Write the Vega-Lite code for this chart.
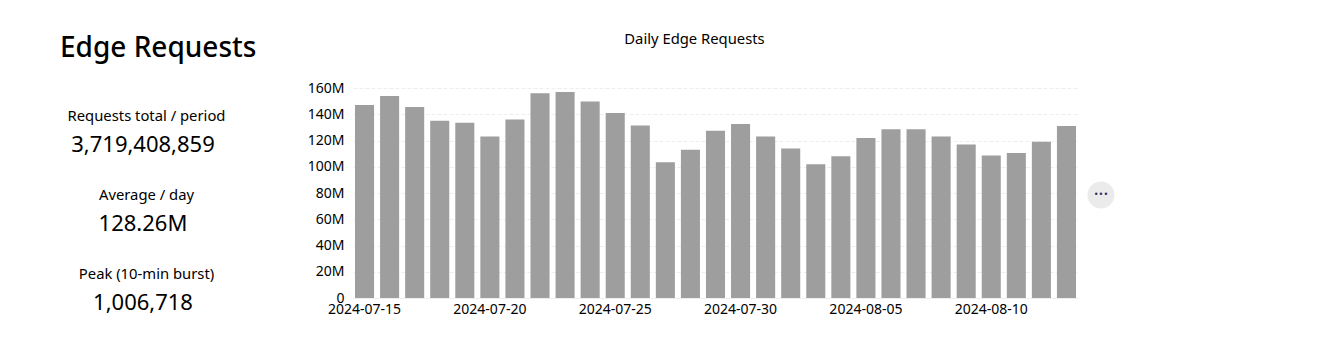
{
"$schema":"https://vega.github.io/schema/vega-lite/v6.json",
"padding":{"left":0,"top":32,"right":0,"bottom":0},
"background":"white",
"spacing":0,
"bounds":"flush",
"config":{"view":{"stroke":null},"font":"Noto Sans"},
"hconcat":[
{"width":353,"height":210,
 "title":{"text":"Edge Requests","anchor":"start","frame":"group","dx":60,"offset":25,"fontSize":28,"fontWeight":500,"font":"Noto Sans","color":"#000"},
 "data":{"values":[
  {"metric":"total","label":"Requests total / period","value":"3,719,408,859"},
  {"metric":"average","label":"Average / day","value":"128.26M"},
  {"metric":"peak","label":"Peak (10-min burst)","value":"1,006,718"}]},
 "encoding":{
  "y":{"field":"metric","type":"nominal","axis":null,"sort":null,"scale":{"type":"point","padding":0,"domain":["total","average","peak"],"range":[41.5,199.5]}}
 },
 "layer":[
  {"mark":{"type":"text","baseline":"middle","align":"center","color":"#000","fontSize":14.8,"dx":-30,"dy":-12.5},
   "encoding":{"text":{"field":"label"}}},
  {"mark":{"type":"text","baseline":"middle","align":"center","color":"#000","fontSize":22,"dx":-33.5,"dy":15},
   "encoding":{"text":{"field":"value"}}}
 ]},
{"width":725,"height":210,
 "title":{"text":"Daily Edge Requests","anchor":"middle","frame":"group","dx":-21,"offset":34,"fontSize":14.8,"fontWeight":400,"font":"Noto Sans","color":"#000"},
 "data":{"values":[
  {"date":"2024-07-15","requests":147000000},{"date":"2024-07-16","requests":154000000},{"date":"2024-07-17","requests":145500000},
  {"date":"2024-07-18","requests":135000000},{"date":"2024-07-19","requests":133500000},{"date":"2024-07-20","requests":123000000},
  {"date":"2024-07-21","requests":136000000},{"date":"2024-07-22","requests":156000000},{"date":"2024-07-23","requests":157000000},
  {"date":"2024-07-24","requests":149700000},{"date":"2024-07-25","requests":141000000},{"date":"2024-07-26","requests":131500000},
  {"date":"2024-07-27","requests":103500000},{"date":"2024-07-28","requests":113000000},{"date":"2024-07-29","requests":127500000},
  {"date":"2024-07-30","requests":132500000},{"date":"2024-07-31","requests":123000000},{"date":"2024-08-01","requests":114000000},
  {"date":"2024-08-02","requests":102000000},{"date":"2024-08-03","requests":108000000},{"date":"2024-08-05","requests":122000000},
  {"date":"2024-08-06","requests":128500000},{"date":"2024-08-07","requests":128500000},{"date":"2024-08-08","requests":123000000},
  {"date":"2024-08-09","requests":117000000},{"date":"2024-08-10","requests":108500000},{"date":"2024-08-11","requests":110500000},
  {"date":"2024-08-12","requests":119000000},{"date":"2024-08-13","requests":131000000}]},
 "mark":{"type":"bar","color":"#9e9e9e"},
 "encoding":{
  "x":{"field":"date","type":"ordinal","title":null,"sort":null,"scale":{"paddingInner":0.24,"paddingOuter":0.08},
   "axis":{"values":["2024-07-15","2024-07-20","2024-07-25","2024-07-30","2024-08-05","2024-08-10"],"labelAngle":0,"domain":true,"domainColor":"#eeeeee","ticks":false,"labelPadding":4,"labelFontSize":14,"labelColor":"#000","labelFont":"Noto Sans","labelOverlap":false,"labelBaseline":"top"}},
  "y":{"field":"requests","type":"quantitative","title":null,"scale":{"domain":[0,160000000],"nice":false},
   "axis":{"values":[0,20000000,40000000,60000000,80000000,100000000,120000000,140000000,160000000],"labelExpr":"datum.value==0?'0':datum.value/1000000+'M'","domain":false,"ticks":false,"labelPadding":9,"labelFontSize":14,"labelColor":"#000","labelFont":"Noto Sans","grid":true,"gridColor":"#eeeeee","gridDash":[4,2],"gridWidth":1}}
 }},
{"width":46,"height":214,
 "data":{"values":[{"action":"more","glyph":"···"}]},
 "layer":[
  {"mark":{"type":"point","filled":true,"size":730,"color":"#ebebeb","opacity":1},
   "encoding":{"x":{"field":"action","type":"nominal","axis":null}}},
  {"mark":{"type":"text","fontSize":18,"color":"#2f2a55","baseline":"middle"},
   "encoding":{"x":{"field":"action","type":"nominal","axis":null},"text":{"field":"glyph"}}}
 ]}
],
"resolve":{"scale":{"x":"independent","y":"independent"}}
}
